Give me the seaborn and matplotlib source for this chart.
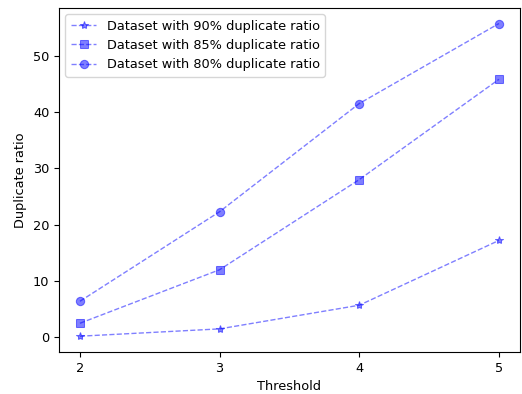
import numpy as np
import pandas as pd
import seaborn as sns
import matplotlib.pyplot as plt

thresholds = [2, 3, 4, 5]
ratio_90 = [0.2, 1.5, 5.7, 17.2]
ratio_85 = [2.5, 12.0, 28.0, 45.8]
ratio_80 = [6.4, 22.3, 41.5, 55.7]
labels = ["Dataset with 90% duplicate ratio",
          "Dataset with 85% duplicate ratio",
          "Dataset with 80% duplicate ratio"]
markers = ["*", "s", "o"]


def main():
    plt.rcParams["font.size"] = 9.3
    fig, ax = plt.subplots(figsize=(5.22, 3.94), dpi=100)
    for vals, label, m in zip([ratio_90, ratio_85, ratio_80], labels, markers):
        sns.lineplot(x=thresholds, y=vals, ax=ax, color="blue", alpha=0.5,
                     linestyle="--", linewidth=1, marker=m, markersize=6,
                     markeredgecolor="blue", label=label)
    ax.set_xticks(thresholds)
    ax.set_xlabel("Threshold")
    ax.set_ylabel("Duplicate ratio")
    ax.legend(loc="upper left")
    fig.subplots_adjust(left=0.113, right=0.996, top=0.98, bottom=0.107)
    fig.savefig("out.png", dpi=100)


if __name__ == "__main__":
    main()
